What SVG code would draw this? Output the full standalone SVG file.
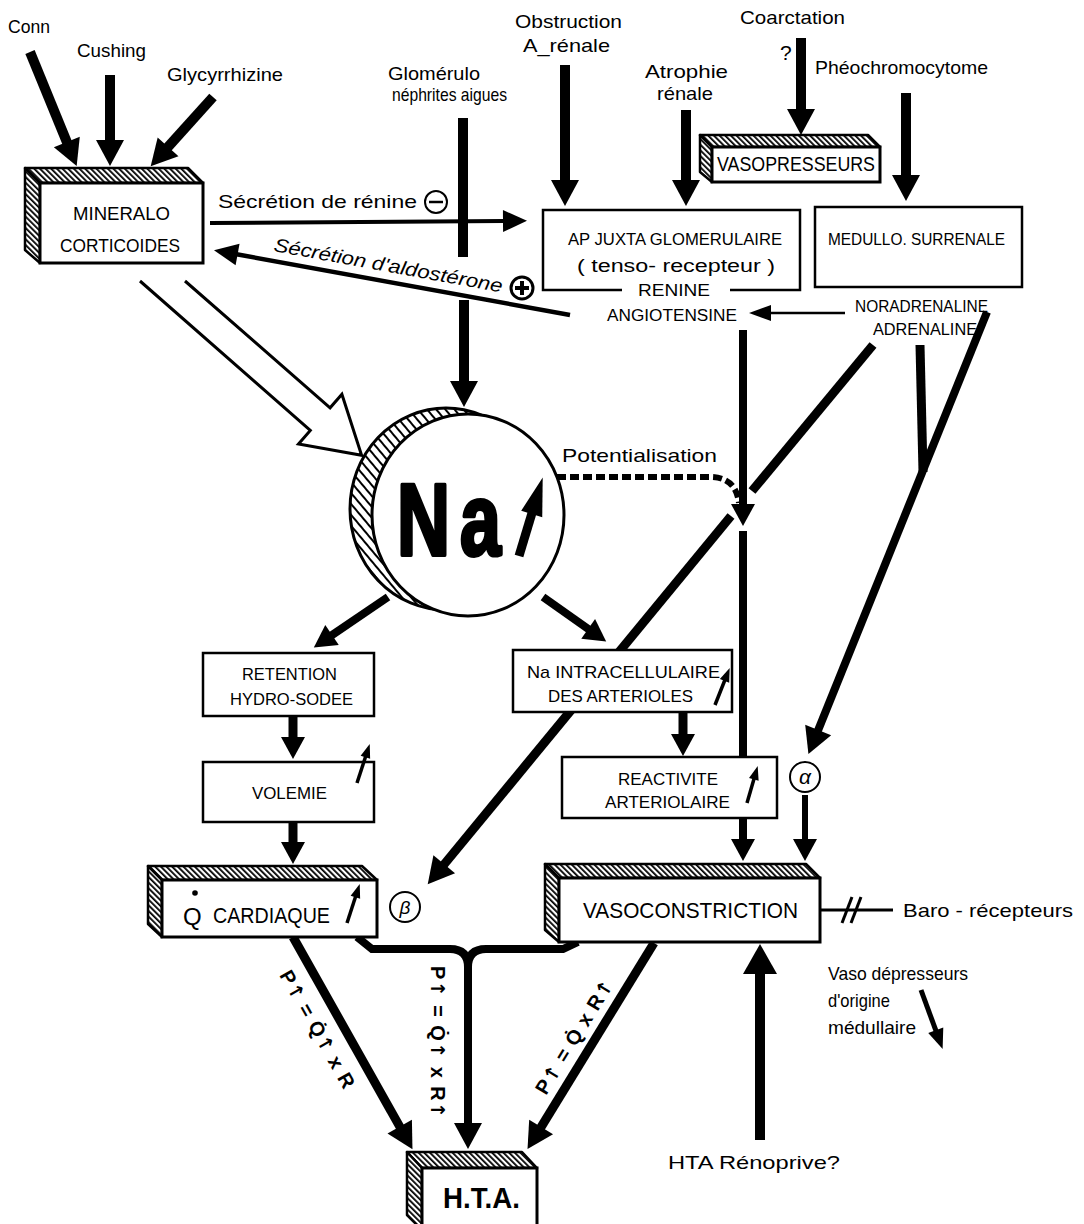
<svg xmlns="http://www.w3.org/2000/svg" width="1084" height="1224" viewBox="0 0 1084 1224">
<defs>
<pattern id="hatch" patternUnits="userSpaceOnUse" width="4" height="4" patternTransform="rotate(-45)"><rect width="4" height="4" fill="#fff"/><rect width="1.8" height="4" fill="#000"/></pattern>
<pattern id="hatch2" patternUnits="userSpaceOnUse" width="7" height="7" patternTransform="rotate(-40)"><rect width="7" height="7" fill="#fff"/><rect width="2" height="7" fill="#000"/></pattern>
<marker id="ah" markerUnits="userSpaceOnUse" markerWidth="30" markerHeight="30" viewBox="0 -15 30 30" refX="1" refY="0" orient="auto" overflow="visible"><path d="M0,-14 L26,0 L0,14 z" fill="#000" stroke="none"/></marker>
<marker id="ahm" markerUnits="userSpaceOnUse" markerWidth="24" markerHeight="24" viewBox="0 -12 24 24" refX="1" refY="0" orient="auto" overflow="visible"><path d="M0,-12 L22,0 L0,12 z" fill="#000" stroke="none"/></marker>
<marker id="ahb" markerUnits="userSpaceOnUse" markerWidth="32" markerHeight="36" viewBox="0 -18 32 36" refX="1" refY="0" orient="auto" overflow="visible"><path d="M0,-17 L30,0 L0,17 z" fill="#000" stroke="none"/></marker>
<marker id="aht" markerUnits="userSpaceOnUse" markerWidth="24" markerHeight="24" viewBox="0 -12 24 24" refX="1" refY="0" orient="auto" overflow="visible"><path d="M0,-11 L24,0 L0,11 z" fill="#000" stroke="none"/></marker>
<marker id="aht2" markerUnits="userSpaceOnUse" markerWidth="24" markerHeight="20" viewBox="0 -10 24 20" refX="1" refY="0" orient="auto" overflow="visible"><path d="M0,-8 L22,0 L0,8 z" fill="#000" stroke="none"/></marker>
<marker id="ahv" markerUnits="userSpaceOnUse" markerWidth="22" markerHeight="20" viewBox="0 -10 22 20" refX="1" refY="0" orient="auto" overflow="visible"><path d="M0,-8 L20,0 L0,8 z" fill="#000" stroke="none"/></marker>
<marker id="ahs" markerUnits="userSpaceOnUse" markerWidth="16" markerHeight="12" viewBox="0 -6 16 12" refX="1" refY="0" orient="auto" overflow="visible"><path d="M0,-5 L14,0 L0,5 z" fill="#000" stroke="none"/></marker>
<marker id="ahna" markerUnits="userSpaceOnUse" markerWidth="40" markerHeight="24" viewBox="0 -12 40 24" refX="1" refY="0" orient="auto" overflow="visible"><path d="M0,-11 L38,0 L0,11 z" fill="#000" stroke="none"/></marker>
<style>
text { font-family: "Liberation Sans", Arial, "DejaVu Sans", sans-serif; fill: #000; }
.t { font-size: 19px; }
.u { font-size: 16px; }
.m { font-size: 17px; }
.eq { font-size: 20px; font-weight: bold; }
.ar { font-family: "DejaVu Sans", sans-serif; font-weight: bold; font-size: 19px; }
.box { fill: #fff; stroke: #000; stroke-width: 3; }
.hf { fill: url(#hatch); stroke: #000; stroke-width: 2.5; stroke-linejoin: round; }
.frame { fill: #fff; stroke: #000; stroke-width: 2.5; }
.ln { fill: none; stroke: #000; }
</style>
</defs>
<rect width="1084" height="1224" fill="#fff"/>

<g id="connectors" class="ln">
  <line x1="30" y1="52" x2="67.2" y2="142.9" stroke-width="10" marker-end="url(#ah)"/>
  <line x1="110" y1="75" x2="110" y2="141" stroke-width="10" marker-end="url(#ah)"/>
  <line x1="213" y1="97" x2="167.4" y2="147.7" stroke-width="10" marker-end="url(#ah)"/>
  <line x1="565" y1="65" x2="565" y2="181" stroke-width="10" marker-end="url(#ah)"/>
  <line x1="686" y1="110" x2="686" y2="181" stroke-width="10" marker-end="url(#ah)"/>
  <line x1="801" y1="38" x2="801" y2="110" stroke-width="10" marker-end="url(#ah)"/>
  <line x1="906" y1="93" x2="906" y2="176" stroke-width="10" marker-end="url(#ah)"/>
  <line x1="210" y1="223" x2="504" y2="221" stroke-width="4" marker-end="url(#aht)"/>
  <line x1="463" y1="118" x2="463" y2="257" stroke-width="10"/>
  <line x1="464" y1="300" x2="464" y2="382" stroke-width="10" marker-end="url(#ah)"/>
  <line x1="570" y1="315" x2="236.6" y2="254.3" stroke-width="4.5" marker-end="url(#aht)"/>
  <path d="M140,281 L310.3,430.4 L298.5,443.9 L361.6,455.3 L341.9,394.3 L330.1,407.8 L185,281" fill="#fff" stroke="#000" stroke-width="3" stroke-linejoin="miter"/>
  <line x1="845" y1="313" x2="770" y2="313" stroke-width="2.5" marker-end="url(#aht2)"/>
  <line x1="743" y1="330" x2="743" y2="505" stroke-width="8" marker-end="url(#ahm)"/>
  <line x1="743" y1="531" x2="743" y2="840" stroke-width="8" marker-end="url(#ahm)"/>
  <path d="M557,477 L712,477 Q736,478 739,503" stroke-width="6" stroke-dasharray="9 4"/>
  <line x1="873" y1="345" x2="752" y2="491" stroke-width="9"/>
  <line x1="731" y1="516" x2="443.6" y2="865" stroke-width="9" marker-end="url(#ah)"/>
  <line x1="920" y1="345" x2="923" y2="472" stroke-width="9"/>
  <line x1="987" y1="312" x2="817.8" y2="730.9" stroke-width="8" marker-end="url(#ah)"/>
  <line x1="388" y1="597" x2="331.2" y2="635.6" stroke-width="8" marker-end="url(#ahm)"/>
  <line x1="543" y1="597" x2="589" y2="629.4" stroke-width="8" marker-end="url(#ahm)"/>
  <line x1="293" y1="716" x2="293" y2="738" stroke-width="9" marker-end="url(#ahm)"/>
  <line x1="293" y1="822" x2="293" y2="843" stroke-width="9" marker-end="url(#ahm)"/>
  <line x1="683" y1="712" x2="683" y2="735" stroke-width="9" marker-end="url(#ahm)"/>
  <line x1="805" y1="795" x2="805" y2="840" stroke-width="6" marker-end="url(#ahm)"/>
  <line x1="293" y1="937" x2="400.2" y2="1127.4" stroke-width="9" marker-end="url(#ah)"/>
  <path d="M357,937 L372,949 L450,949 Q468,949 468,967 L468,1124" stroke-width="8" marker-end="url(#ah)"/>
  <path d="M578,942 L563,949 L486,949 Q468,949 468,967" stroke-width="8"/>
  <line x1="654" y1="943" x2="540.6" y2="1127.8" stroke-width="9" marker-end="url(#ah)"/>
  <line x1="760" y1="1140" x2="760" y2="973" stroke-width="10" marker-end="url(#ahb)"/>
  <line x1="820" y1="910" x2="893" y2="910" stroke-width="3"/>
  <line x1="842" y1="923" x2="852" y2="897" stroke-width="3"/>
  <line x1="851" y1="923" x2="861" y2="897" stroke-width="3"/>
  <line x1="921" y1="990" x2="936.1" y2="1031.2" stroke-width="5" marker-end="url(#ahv)"/>
</g>

<g id="n-conn"><text class="t" x="8" y="33" textLength="42" lengthAdjust="spacingAndGlyphs">Conn</text></g>
<g id="n-cushing"><text class="t" x="77" y="57" textLength="69" lengthAdjust="spacingAndGlyphs">Cushing</text></g>
<g id="n-glyc"><text class="t" x="167" y="81" textLength="116" lengthAdjust="spacingAndGlyphs">Glycyrrhizine</text></g>
<g id="n-glom">
  <text class="t" x="388" y="80" textLength="92" lengthAdjust="spacingAndGlyphs">Glomérulo</text>
  <text class="t" x="392" y="101" textLength="115" lengthAdjust="spacingAndGlyphs">néphrites  aigues</text>
</g>
<g id="n-obstr">
  <text class="t" x="515" y="28" textLength="107" lengthAdjust="spacingAndGlyphs">Obstruction</text>
  <text class="t" x="523" y="52" textLength="87" lengthAdjust="spacingAndGlyphs">A_rénale</text>
</g>
<g id="n-atroph">
  <text class="t" x="645" y="78" textLength="83" lengthAdjust="spacingAndGlyphs">Atrophie</text>
  <text class="t" x="657" y="100" textLength="56" lengthAdjust="spacingAndGlyphs">rénale</text>
</g>
<g id="n-coarct">
  <text class="t" x="740" y="24" textLength="105" lengthAdjust="spacingAndGlyphs">Coarctation</text>
  <text x="780" y="60" font-size="21">?</text>
</g>
<g id="n-pheo"><text class="t" x="815" y="74" textLength="173" lengthAdjust="spacingAndGlyphs">Phéochromocytome</text></g>

<g id="n-mineralo">
  <polygon class="hf" points="25,168 188,168 203,183 40,183"/>
  <polygon class="hf" points="25,168 40,183 40,263 25,250"/>
  <rect class="box" x="40" y="183" width="163" height="80"/>
  <text class="t" x="73" y="220" textLength="97" lengthAdjust="spacingAndGlyphs">MINERALO</text>
  <text class="t" x="60" y="252" textLength="120" lengthAdjust="spacingAndGlyphs">CORTICOIDES</text>
</g>

<g id="n-secr-renine">
  <text class="t" x="218" y="208" textLength="199" lengthAdjust="spacingAndGlyphs">Sécrétion  de  rénine</text>
  <circle cx="436" cy="202" r="11" fill="#fff" stroke="#000" stroke-width="2"/>
  <line x1="429" y1="202" x2="443" y2="202" stroke="#000" stroke-width="2.5"/>
</g>
<g id="n-secr-aldo">
  <text class="t" font-style="italic" transform="translate(273,251) rotate(10.3)" textLength="232" lengthAdjust="spacingAndGlyphs">Sécrétion  d'aldostérone</text>
  <circle cx="522" cy="288" r="11" fill="#fff" stroke="#000" stroke-width="3"/>
  <line x1="515" y1="288" x2="529" y2="288" stroke="#000" stroke-width="4"/>
  <line x1="522" y1="281" x2="522" y2="295" stroke="#000" stroke-width="4"/>
</g>

<g id="n-vasopress">
  <polygon class="hf" points="700,135 868,135 880,147 712,147"/>
  <polygon class="hf" points="700,135 712,147 712,182 700,172"/>
  <rect class="box" x="712" y="147" width="168" height="35"/>
  <text x="717" y="171" font-size="20" textLength="158" lengthAdjust="spacingAndGlyphs">VASOPRESSEURS</text>
</g>

<g id="n-apjuxta">
  <path class="ln" d="M622,290 L543,290 L543,210 L800,210 L800,290 L730,290" stroke-width="2.5"/>
  <text class="u" x="568" y="245" textLength="214" lengthAdjust="spacingAndGlyphs">AP JUXTA  GLOMERULAIRE</text>
  <text x="577" y="272" font-size="18" textLength="198" lengthAdjust="spacingAndGlyphs">( tenso- recepteur )</text>
  <text class="u" x="638" y="296" textLength="72" lengthAdjust="spacingAndGlyphs">RENINE</text>
  <text class="u" x="607" y="321" textLength="130" lengthAdjust="spacingAndGlyphs">ANGIOTENSINE</text>
</g>

<g id="n-medullo">
  <rect x="815" y="207" width="207" height="80" fill="none" stroke="#000" stroke-width="2.5"/>
  <text class="u" x="828" y="245" textLength="177" lengthAdjust="spacingAndGlyphs">MEDULLO. SURRENALE</text>
  <text class="u" x="855" y="312" textLength="133" lengthAdjust="spacingAndGlyphs">NORADRENALINE</text>
  <text class="u" x="873" y="335" textLength="104" lengthAdjust="spacingAndGlyphs">ADRENALINE</text>
</g>

<g id="n-na">
  <ellipse cx="446" cy="509" rx="96" ry="101" fill="url(#hatch2)" stroke="#000" stroke-width="3"/>
  <ellipse cx="468" cy="515" rx="96" ry="101" fill="#fff" stroke="#000" stroke-width="3"/>
  <text transform="translate(397,555) scale(0.72,1)" font-size="102" font-weight="bold" letter-spacing="14" stroke="#000" stroke-width="4" stroke-linejoin="round">Na</text>
  <line x1="519" y1="556" x2="532" y2="513" stroke="#000" stroke-width="9" marker-end="url(#ahna)"/>
</g>

<g id="n-potent"><text class="t" x="562" y="462" textLength="155" lengthAdjust="spacingAndGlyphs">Potentialisation</text></g>

<g id="n-retention">
  <rect class="frame" x="203" y="653" width="171" height="63"/>
  <text class="u" x="242" y="680" textLength="95" lengthAdjust="spacingAndGlyphs">RETENTION</text>
  <text class="u" x="230" y="705" textLength="123" lengthAdjust="spacingAndGlyphs">HYDRO-SODEE</text>
</g>
<g id="n-volemie">
  <rect class="frame" x="203" y="762" width="171" height="60"/>
  <text class="u" x="252" y="799" textLength="75" lengthAdjust="spacingAndGlyphs">VOLEMIE</text>
  <line x1="357" y1="783" x2="365.7" y2="756.3" stroke="#000" stroke-width="3.5" marker-end="url(#ahs)"/>
</g>
<g id="n-naintra">
  <rect class="frame" x="513" y="650" width="219" height="62"/>
  <text class="m" x="527" y="678" textLength="193" lengthAdjust="spacingAndGlyphs">Na INTRACELLULAIRE</text>
  <text class="m" x="548" y="702" textLength="145" lengthAdjust="spacingAndGlyphs">DES ARTERIOLES</text>
  <line x1="715" y1="705" x2="724.9" y2="680" stroke="#000" stroke-width="3.5" marker-end="url(#ahs)"/>
</g>
<g id="n-reactiv">
  <rect class="frame" x="562" y="757" width="215" height="61"/>
  <text class="m" x="618" y="785" textLength="100" lengthAdjust="spacingAndGlyphs">REACTIVITE</text>
  <text class="m" x="605" y="808" textLength="125" lengthAdjust="spacingAndGlyphs">ARTERIOLAIRE</text>
  <line x1="747" y1="803" x2="754.1" y2="778.4" stroke="#000" stroke-width="3.5" marker-end="url(#ahs)"/>
</g>
<g id="n-alpha">
  <circle cx="805" cy="777" r="15" fill="#fff" stroke="#000" stroke-width="2"/>
  <text x="805" y="784" font-size="21" font-style="italic" text-anchor="middle">α</text>
</g>
<g id="n-beta">
  <circle cx="405" cy="907" r="15" fill="#fff" stroke="#000" stroke-width="2"/>
  <text x="405" y="914" font-size="19" font-style="italic" text-anchor="middle">β</text>
</g>

<g id="n-qcard">
  <polygon class="hf" points="148,866 362,866 377,880 162,880"/>
  <polygon class="hf" points="148,866 162,880 162,937 148,924"/>
  <rect class="box" x="162" y="880" width="215" height="57"/>
  <circle cx="195" cy="893" r="2.8" fill="#000"/>
  <text x="183" y="925" font-size="24">Q</text>
  <text x="213" y="923" font-size="22" textLength="117" lengthAdjust="spacingAndGlyphs">CARDIAQUE</text>
  <line x1="347" y1="923" x2="355.7" y2="896.3" stroke="#000" stroke-width="3.5" marker-end="url(#ahs)"/>
</g>

<g id="n-vasocon">
  <polygon class="hf" points="545,864 806,864 820,878 559,878"/>
  <polygon class="hf" points="545,864 559,878 559,942 545,930"/>
  <rect class="box" x="559" y="878" width="261" height="64"/>
  <text x="583" y="918" font-size="22" textLength="215" lengthAdjust="spacingAndGlyphs">VASOCONSTRICTION</text>
</g>
<g id="n-baro"><text class="t" x="903" y="917" textLength="170" lengthAdjust="spacingAndGlyphs">Baro - récepteurs</text></g>
<g id="n-vasodep">
  <text class="t" x="828" y="980" textLength="140" lengthAdjust="spacingAndGlyphs">Vaso  dépresseurs</text>
  <text class="t" x="828" y="1007" textLength="62" lengthAdjust="spacingAndGlyphs">d'origine</text>
  <text class="t" x="828" y="1034" textLength="88" lengthAdjust="spacingAndGlyphs">médullaire</text>
</g>
<g id="n-renoprive"><text class="t" x="668" y="1169" textLength="172" lengthAdjust="spacingAndGlyphs">HTA  Rénoprive?</text></g>

<g id="n-eq">
  <text class="eq" transform="translate(279,975) rotate(60.6)" textLength="132">P<tspan class="ar">↑</tspan> = Q&#x307;<tspan class="ar">↑</tspan> x R</text>
  <text class="eq" transform="translate(431,966) rotate(90)" textLength="152">P<tspan class="ar">↑</tspan> = Q&#x307;<tspan class="ar">↑</tspan> x R<tspan class="ar">↑</tspan></text>
  <text class="eq" transform="translate(546,1096) rotate(-58.5)" textLength="130">P<tspan class="ar">↑</tspan> = Q&#x307; x R<tspan class="ar">↑</tspan></text>
</g>

<g id="n-hta">
  <polygon class="hf" points="407,1152 522,1152 537,1168 422,1168"/>
  <polygon class="hf" points="407,1152 422,1168 422,1230 407,1215"/>
  <rect class="box" x="422" y="1168" width="115" height="62"/>
  <text x="443" y="1208" font-size="30" font-weight="bold" textLength="77" lengthAdjust="spacingAndGlyphs">H.T.A.</text>
</g>
</svg>
